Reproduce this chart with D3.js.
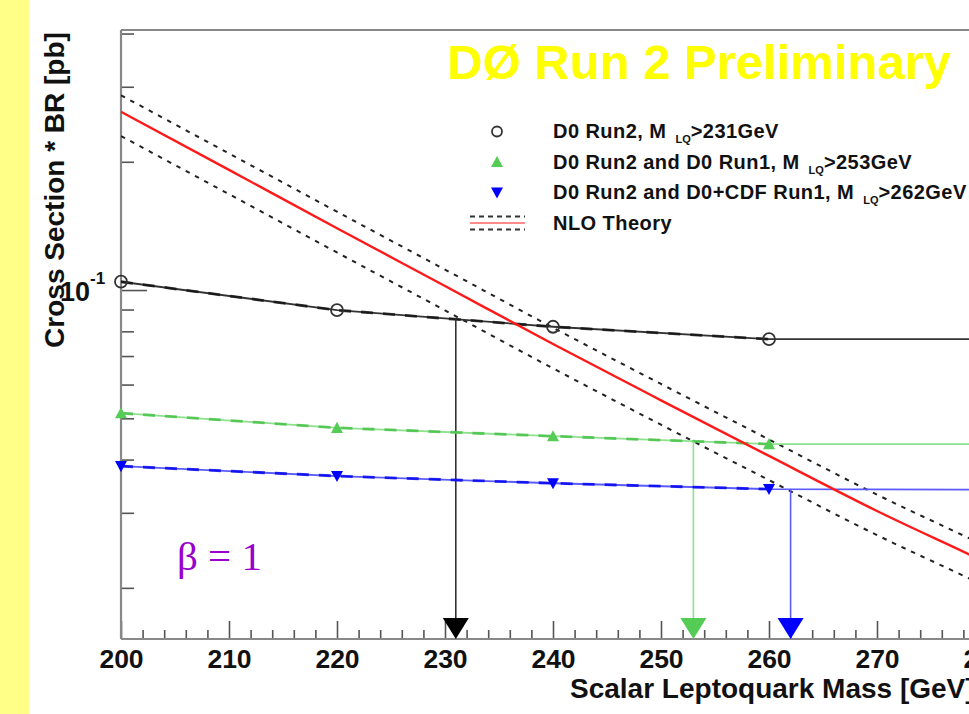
<!DOCTYPE html>
<html><head><meta charset="utf-8">
<script src="https://cdn.jsdelivr.net/npm/d3@7"></script>
<style>
html,body{margin:0;padding:0;background:#fff;overflow:hidden;}
svg{display:block;}
</style></head>
<body>
<svg id="chart" width="969" height="714"></svg>
<script>
// ---- data ----
const masses     = [200, 220, 240, 260, 280, 300];
const run2       = [0.1046, 0.0897, 0.0820, 0.0767, 0.0767, 0.0767];
const run2Run1   = [0.0514, 0.0475, 0.0454, 0.0435, 0.0435, 0.0435];
const run2Cdf    = [0.0386, 0.0366, 0.0352, 0.0341, 0.0340, 0.0340];
const thMass     = [200, 210, 220, 230, 240, 250, 260, 270, 280, 290, 300];
const thCentral  = [0.2621, 0.1914, 0.1397, 0.1022, 0.0747, 0.0551, 0.0408, 0.0303, 0.0230, 0.0172, 0.0129];
const thUpper    = [0.2865, 0.2092, 0.1527, 0.1117, 0.0816, 0.0602, 0.0446, 0.0331, 0.0251, 0.0188, 0.0141];
const thLower    = [0.2299, 0.1679, 0.1225, 0.0896, 0.0655, 0.0483, 0.0358, 0.0266, 0.0202, 0.0151, 0.0113];
const limits     = [231, 253, 262];
const seriesText = ["D0 Run2, M", "D0 Run2 and D0 Run1, M", "D0 Run2 and D0+CDF Run1, M"];
const limitText  = [">231GeV", ">253GeV", ">262GeV"];
const theoryText = "NLO Theory";
const xMajorTicks = [200, 210, 220, 230, 240, 250, 260, 270, 280, 290, 300];
const yMinorTicks = [0.02, 0.03, 0.04, 0.05, 0.06, 0.07, 0.08, 0.09, 0.2, 0.3, 0.4];
const yMajorTicks = [0.1];
const titleText  = "DØ Run 2 Preliminary";
const xTitle     = "Scalar Leptoquark Mass [GeV]";
const yTitle     = "Cross Section * BR [pb]";
const betaText   = "β = 1";

// ---- drawing ----
const svg = d3.select("#chart");
const FONT = "'Liberation Sans', Arial, Helvetica, sans-serif";

svg.append("rect").attr("x",0).attr("y",0).attr("width",969).attr("height",714).attr("fill","#fff");
svg.append("rect").attr("x",0).attr("y",0).attr("width",29).attr("height",714).attr("fill","#ffff88");

const x = d3.scaleLinear().domain([200, 300]).range([121, 1201]);
const y = d3.scaleLog().domain([0.01517, 0.4077]).range([639, 30]);

svg.append("clipPath").attr("id","plotclip").append("rect")
  .attr("x",121).attr("y",30).attr("width",1080).attr("height",609);

// axes ticks
const gx = svg.append("g").attr("transform","translate(0,639)")
  .call(d3.axisBottom(x).tickValues(xMajorTicks).tickSize(-18).tickPadding(10).tickFormat(d3.format("d")));
gx.select(".domain").remove();
gx.selectAll(".tick line").attr("stroke","#555").attr("stroke-width",1.6);
gx.selectAll(".tick text").attr("font-family",FONT).attr("font-size",26.5).attr("font-weight","bold").attr("fill","#111");

const gxm = svg.append("g").attr("transform","translate(0,639)")
  .call(d3.axisBottom(x).tickValues(x.ticks(50).filter(v => xMajorTicks.indexOf(v) < 0)).tickSize(-9).tickFormat(""));
gxm.select(".domain").remove();
gxm.selectAll(".tick line").attr("stroke","#555").attr("stroke-width",1.6);

const gy = svg.append("g").attr("transform","translate(121,0)")
  .call(d3.axisLeft(y).tickValues(yMinorTicks).tickSize(-13).tickFormat(""));
gy.select(".domain").remove();
gy.selectAll(".tick line").attr("stroke","#555").attr("stroke-width",1.6);
const gyM = svg.append("g").attr("transform","translate(121,0)")
  .call(d3.axisLeft(y).tickValues(yMajorTicks).tickSize(-26).tickFormat(""));
gyM.select(".domain").remove();
gyM.selectAll(".tick line").attr("stroke","#555").attr("stroke-width",1.6);

// frame
const frame = svg.append("g").attr("stroke","#888").attr("stroke-width",2.2).attr("fill","none");
frame.append("line").attr("x1",x(200)).attr("x2",969).attr("y1",y.range()[1]).attr("y2",y.range()[1]);
frame.append("line").attr("x1",x(200)).attr("x2",969).attr("y1",y.range()[0]).attr("y2",y.range()[0]);
frame.append("line").attr("x1",x(200)).attr("x2",x(200)).attr("y1",y.range()[1]).attr("y2",y.range()[0]);

// y tick label 10^-1
yMajorTicks.forEach(v => {
  const t = svg.append("text").attr("x",60).attr("y",y(v)+10.5)
    .attr("font-family",FONT).attr("font-weight","bold").attr("fill","#111");
  t.append("tspan").attr("font-size",27).text("10");
  t.append("tspan").attr("font-size",17).attr("dy",-17).attr("dx",0).text("-1");
});

// axis titles
svg.append("text").attr("x",570).attr("y",698)
  .attr("font-family",FONT).attr("font-size",28).attr("font-weight","bold").attr("fill","#111")
  .text(xTitle);
svg.append("text").attr("transform","translate(64,190) rotate(-90)").attr("text-anchor","middle")
  .attr("font-family",FONT).attr("font-size",28).attr("font-weight","bold").attr("fill","#111")
  .text(yTitle);

// title
svg.append("text").attr("x",447).attr("y",79)
  .attr("font-family",FONT).attr("font-size",49).attr("font-weight","bold").attr("fill","#ffff00")
  .text(titleText);

const plot = svg.append("g").attr("clip-path","url(#plotclip)");

// theory band
const thLine = arr => d3.line().curve(d3.curveMonotoneX)
  .x((d,i) => x(thMass[i])).y(d => y(d))(arr);
plot.append("path").attr("d", thLine(thUpper)).attr("fill","none")
  .attr("stroke","#222").attr("stroke-width",2).attr("stroke-dasharray","4.5,6");
plot.append("path").attr("d", thLine(thLower)).attr("fill","none")
  .attr("stroke","#222").attr("stroke-width",2).attr("stroke-dasharray","4.5,6");

// limit series
const series = [
  {vals: run2,     solid:"#333333", dash:"#111111", mark:"circle", color:"#333"},
  {vals: run2Run1, solid:"#8fe08f", dash:"#44c044", mark:"up",     color:"#55cc55"},
  {vals: run2Cdf,  solid:"#5a5aff", dash:"#0000ee", mark:"down",   color:"#0000ff"}
];
const sLine = d3.line().x(d => x(d[0])).y(d => y(d[1]));

function interpLog(vals, m) {
  for (let i = 0; i < masses.length - 1; i++) {
    if (m >= masses[i] && m <= masses[i+1]) {
      const f = (m - masses[i]) / (masses[i+1] - masses[i]);
      return Math.pow(10, Math.log10(vals[i]) * (1-f) + Math.log10(vals[i+1]) * f);
    }
  }
  return vals[vals.length-1];
}

series.forEach((s, k) => {
  const pts = masses.map((m,i) => [m, s.vals[i]]);
  plot.append("path").attr("d", sLine(pts)).attr("fill","none")
    .attr("stroke", s.solid).attr("stroke-width",1.8);
  plot.append("path").attr("d", sLine(pts.filter(p => p[0] <= 260))).attr("fill","none")
    .attr("stroke", s.dash).attr("stroke-width",2.8).attr("stroke-dasharray","12,10").attr("opacity",0.8);
  // vertical limit line
  const lm = limits[k];
  plot.append("line").attr("x1",x(lm)).attr("x2",x(lm))
    .attr("y1", y(interpLog(s.vals, lm))).attr("y2", y.range()[0] - 10)
    .attr("stroke", k===0 ? "#333" : s.solid).attr("stroke-width",1.6);
});

// theory central
plot.append("path").attr("d", thLine(thCentral)).attr("fill","none")
  .attr("stroke","#ff1a1a").attr("stroke-width",2.4);

// markers
function marker(g, type, cx, cy, r, color) {
  if (type === "circle") {
    g.append("circle").attr("cx",cx).attr("cy",cy).attr("r",r)
      .attr("fill","none").attr("stroke",color).attr("stroke-width",1.8);
  } else if (type === "up") {
    g.append("path").attr("d",`M${cx-r},${cy+r*0.85}L${cx+r},${cy+r*0.85}L${cx},${cy-r}Z`).attr("fill",color);
  } else {
    g.append("path").attr("d",`M${cx-r},${cy-r*0.85}L${cx+r},${cy-r*0.85}L${cx},${cy+r}Z`).attr("fill",color);
  }
}
const mk = svg.append("g");
series.forEach(s => {
  masses.forEach((m,i) => marker(mk, s.mark, x(m), y(s.vals[i]), 6, s.color));
});

// arrowheads at limits
const arrowColors = ["#000000", "#55cc55", "#0000ff"];
limits.forEach((lm,k) => {
  const cx = x(lm), tip = y.range()[0];
  svg.append("path").attr("d",`M${cx-13},${tip-21}L${cx+13},${tip-21}L${cx},${tip}Z`)
    .attr("fill", arrowColors[k]);
});

// legend
const lg = svg.append("g");
const legendSym = [131.5, 162, 192.5, 223];
series.forEach((s,k) => {
  marker(lg, s.mark, 497, legendSym[k], k===0 ? 5 : 6, s.color);
  const t = lg.append("text").attr("x",553).attr("y",legendSym[k]+6.5)
    .attr("font-family",FONT).attr("font-weight","bold").attr("fill","#111").attr("font-size",20)
    .attr("letter-spacing",0.45);
  t.append("tspan").text(seriesText[k]);
  t.append("tspan").attr("dx",9).attr("dy",5).attr("font-size",11).attr("letter-spacing",0).text("LQ");
  t.append("tspan").attr("dy",-5).text(limitText[k]);
});
lg.append("line").attr("x1",470).attr("x2",525).attr("y1",216.5).attr("y2",216.5)
  .attr("stroke","#333").attr("stroke-width",2).attr("stroke-dasharray","5,4");
lg.append("line").attr("x1",470).attr("x2",525).attr("y1",229.5).attr("y2",229.5)
  .attr("stroke","#333").attr("stroke-width",2).attr("stroke-dasharray","5,4");
lg.append("line").attr("x1",470).attr("x2",525).attr("y1",223).attr("y2",223)
  .attr("stroke","#ff8a8a").attr("stroke-width",2.2);
lg.append("text").attr("x",553).attr("y",legendSym[3]+6.5)
  .attr("font-family",FONT).attr("font-weight","bold").attr("fill","#111").attr("font-size",20)
  .attr("letter-spacing",0.45)
  .text(theoryText);

// beta label
svg.append("text").attr("x",177).attr("y",570)
  .attr("font-family","'Liberation Serif', 'Times New Roman', serif").attr("font-size",41).attr("fill","#9900cc")
  .text(betaText);
</script>
</body></html>
